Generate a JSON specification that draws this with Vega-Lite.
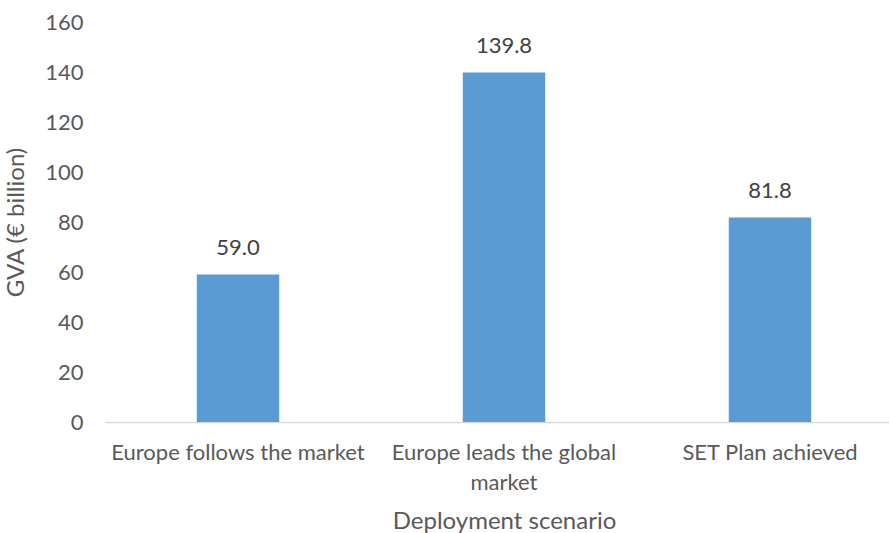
{
  "$schema": "https://vega.github.io/schema/vega-lite/v6.json",
  "width": 784,
  "height": 400,
  "autosize": {"type": "none"},
  "padding": {"left": 105, "top": 22, "right": 0, "bottom": 111},
  "background": "white",
  "config": {
    "view": {"stroke": null},
    "font": "Lato",
    "axis": {"labelFont": "Lato", "titleFont": "Lato", "labelColor": "#595959", "titleColor": "#595959", "titleFontWeight": "normal"}
  },
  "data": {
    "values": [
      {"scenario": "Europe follows the market", "gva": 59.0},
      {"scenario": "Europe leads the global market", "gva": 139.8},
      {"scenario": "SET Plan achieved", "gva": 81.8}
    ]
  },
  "encoding": {
    "x": {
      "field": "scenario",
      "type": "nominal",
      "sort": null,
      "scale": {"range": [0, 798], "paddingInner": 0.69, "paddingOuter": 0.345},
      "axis": {
        "title": "Deployment scenario",
        "titleFontSize": 24,
        "titlePadding": 16,
        "labelAngle": 0,
        "labelFontSize": 22,
        "labelPadding": 20,
        "labelLineHeight": 30,
        "labelLimit": 400,
        "labelExpr": "datum.value == 'Europe leads the global market' ? ['Europe leads the global', 'market'] : datum.value",
        "ticks": false,
        "domainColor": "#D9D9D9",
        "domainWidth": 1.5,
        "grid": false
      }
    },
    "y": {
      "field": "gva",
      "type": "quantitative",
      "scale": {"domain": [0, 160]},
      "axis": {
        "title": "GVA (€ billion)",
        "titleFontSize": 24,
        "titlePadding": 16,
        "labelFontSize": 22,
        "labelPadding": 22,
        "values": [0, 20, 40, 60, 80, 100, 120, 140, 160],
        "ticks": false,
        "domain": false,
        "grid": false
      }
    }
  },
  "layer": [
    {"mark": {"type": "bar", "color": "#5B9BD5"}},
    {
      "mark": {"type": "text", "baseline": "bottom", "dy": -15, "fontSize": 22, "color": "#404040", "font": "Lato"},
      "encoding": {"text": {"field": "gva", "type": "quantitative", "format": ".1f"}}
    }
  ]
}
